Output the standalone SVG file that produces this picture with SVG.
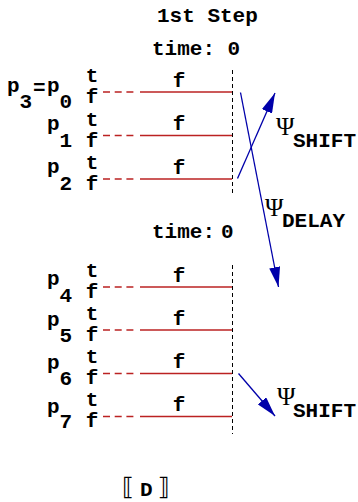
<svg xmlns="http://www.w3.org/2000/svg" width="358" height="502" viewBox="0 0 358 502">
<defs>
<style>
.m{font-family:"Liberation Mono","DejaVu Sans Mono",monospace;font-weight:bold;font-size:21px;fill:#000}
.c{text-anchor:middle}
.psi{font-family:"Liberation Serif","DejaVu Serif",serif;font-size:25px;fill:#000}
.dash{stroke:#bb2222;stroke-width:1.5;stroke-dasharray:7 4.7;fill:none}
.solid{stroke:#bb2222;stroke-width:1.6;fill:none}
.vdash{stroke:#000;stroke-width:1;stroke-dasharray:4 3;fill:none}
.arr{stroke:#0000aa;stroke-width:1.3;fill:none;marker-end:url(#ah)}
.br{font-family:"DejaVu Sans",sans-serif;font-size:24px;fill:#000}
</style>
<marker id="ah" markerUnits="userSpaceOnUse" markerWidth="20" markerHeight="11" refX="20" refY="5.5" orient="auto">
<path d="M0,0 L20,5.5 L0,11 z" fill="#0000aa"/>
</marker>
</defs>
<rect width="358" height="502" fill="#fff"/>
<g id="title">
<text class="m" x="157" y="22">1st Step</text>
<text class="m" x="152" y="55">time: 0</text>
</g>
<g id="time2">
<text class="m" x="152" y="238">time:</text>
<text class="m" x="221" y="238">0</text>
</g>
<g id="bar1"><line class="vdash" x1="232.5" y1="70" x2="232.5" y2="196"/></g>
<g id="bar2"><line class="vdash" x1="232.5" y1="265" x2="232.5" y2="434"/></g>
<g id="row-p0">
<text class="m" x="7" y="92">p</text><text class="m" x="19.6" y="108">3</text><text class="m" x="33" y="94">=</text><text class="m" x="47" y="92">p</text><text class="m" x="59.6" y="108">0</text>
<text class="m c" x="92" y="82">t</text><text class="m c" x="92" y="103">f</text>
<line class="dash" x1="103" y1="92" x2="136" y2="92"/><line class="solid" x1="140" y1="92" x2="232" y2="92"/>
<text class="m c" x="179" y="86.5">f</text>
</g>
<g id="row-p1">
<text class="m" x="47" y="129.5">p</text><text class="m" x="59.6" y="146.5">1</text>
<text class="m c" x="92" y="125.5">t</text><text class="m c" x="92" y="146.5">f</text>
<line class="dash" x1="103" y1="135.5" x2="136" y2="135.5"/><line class="solid" x1="140" y1="135.5" x2="232" y2="135.5"/>
<text class="m c" x="179" y="130">f</text>
</g>
<g id="row-p2">
<text class="m" x="47" y="172.5">p</text><text class="m" x="59.6" y="190">2</text>
<text class="m c" x="92" y="169">t</text><text class="m c" x="92" y="190">f</text>
<line class="dash" x1="103" y1="179" x2="136" y2="179"/><line class="solid" x1="140" y1="179" x2="232" y2="179"/>
<text class="m c" x="179" y="173.5">f</text>
</g>
<g id="row-p4">
<text class="m" x="47" y="285">p</text><text class="m" x="59.6" y="302">4</text>
<text class="m c" x="92" y="277">t</text><text class="m c" x="92" y="298">f</text>
<line class="dash" x1="103" y1="287" x2="136" y2="287"/><line class="solid" x1="140" y1="287" x2="232" y2="287"/>
<text class="m c" x="179" y="281.5">f</text>
</g>
<g id="row-p5">
<text class="m" x="47" y="326">p</text><text class="m" x="59.6" y="342">5</text>
<text class="m c" x="92" y="320">t</text><text class="m c" x="92" y="341">f</text>
<line class="dash" x1="103" y1="330" x2="136" y2="330"/><line class="solid" x1="140" y1="330" x2="232" y2="330"/>
<text class="m c" x="179" y="324.5">f</text>
</g>
<g id="row-p6">
<text class="m" x="47" y="369">p</text><text class="m" x="59.6" y="385">6</text>
<text class="m c" x="92" y="363">t</text><text class="m c" x="92" y="384">f</text>
<line class="dash" x1="103" y1="373.5" x2="136" y2="373.5"/><line class="solid" x1="140" y1="373.5" x2="232" y2="373.5"/>
<text class="m c" x="179" y="368">f</text>
</g>
<g id="row-p7">
<text class="m" x="47" y="413">p</text><text class="m" x="59.6" y="428">7</text>
<text class="m c" x="92" y="406">t</text><text class="m c" x="92" y="427">f</text>
<line class="dash" x1="103" y1="416.5" x2="136" y2="416.5"/><line class="solid" x1="140" y1="416.5" x2="232" y2="416.5"/>
<text class="m c" x="179" y="411">f</text>
</g>
<g id="label-shift1"><text class="psi" x="276" y="135">Ψ</text><text class="m" x="293" y="147">SHIFT</text></g>
<g id="label-delay"><text class="psi" x="265" y="215.5">Ψ</text><text class="m" x="282" y="227">DELAY</text></g>
<g id="label-shift2"><text class="psi" x="277" y="405">Ψ</text><text class="m" x="293" y="417">SHIFT</text></g>
<g id="connectors">
<line class="arr" x1="240.5" y1="92.5" x2="278.5" y2="287"/>
<line class="arr" x1="237.5" y1="178.5" x2="275" y2="93"/>
<line class="arr" x1="238.5" y1="373.5" x2="275" y2="416"/>
</g>
<g id="semantics">
<text class="br" x="122" y="495">⟦</text>
<text class="m" x="140" y="496">D</text>
<text class="br" x="158" y="495">⟧</text>
</g>
</svg>
